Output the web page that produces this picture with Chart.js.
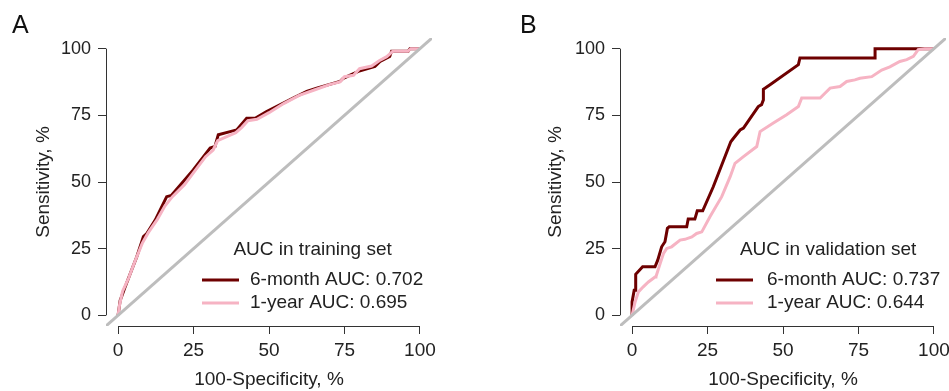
<!DOCTYPE html>
<html lang="en">
<head>
    <meta charset="UTF-8">
    <title>ROC curves</title>
    <script src="https://cdn.jsdelivr.net/npm/chart.js@4.4.1/dist/chart.umd.min.js"></script>
    <style>
        body { margin: 0; background: #fff; }
        #wrap { position: relative; width: 949px; height: 391px; }
        canvas { position: absolute; top: 0; }
        #chartA { left: 0; }
        #chartB { left: 480px; }
    </style>
</head>
<body>
<div id="wrap">
    <canvas id="chartA" width="480" height="391"></canvas>
    <canvas id="chartB" width="469" height="391"></canvas>
</div>

<script>
    // axis ticks (percent)
    const axisTicks = [0, 25, 50, 75, 100];

    // training set, 6-month
    const trainX6m = [0, 0.7, 2.3, 4.5, 6.2, 8.4, 9.5, 12.3, 16.1, 17.7, 24.9, 30.5, 32.1, 33.2, 37.1, 39.3, 42.6, 45.4, 49.2, 58, 62.5, 65.8, 73.5, 74.6, 79.6, 85.1, 86.8, 90, 90.6, 96.1, 96.7, 100];
    const trainY6m = [0, 5.6, 10.5, 17, 22, 29.5, 30.7, 35.7, 44.5, 45, 54.5, 62.7, 63.3, 67.7, 68.9, 69.5, 73.9, 73.9, 76.4, 81.5, 84, 85.2, 87.7, 88.9, 91.5, 93.3, 95.2, 97.1, 99, 99, 100, 100];
    // training set, 1-year
    const trainX1y = [0, 0.5, 1.5, 3.5, 5.5, 8, 10, 13, 15.5, 18, 22, 25, 29, 31.5, 33, 36, 39, 41, 43, 46, 50, 55, 60, 65, 70, 73.5, 75, 78, 80, 84, 86.5, 89, 91, 96, 97, 100];
    const trainY1y = [0, 4, 9, 14, 20, 27, 31, 36, 41, 44.5, 49, 53.5, 59.5, 62, 65.5, 67, 68.5, 70.5, 73, 73.5, 76, 79.5, 82.5, 84.5, 86.5, 87.5, 89.5, 90, 92.5, 93.5, 95.5, 97, 99, 99, 100, 100];

    // validation set, 6-month
    const validX6m = [0, 0, 0.7, 1.2, 1.2, 3.5, 7.6, 8.5, 9.8, 10.9, 11.7, 12.3, 18.1, 18.6, 20.8, 21.6, 23.4, 26.9, 32.7, 33.6, 35.8, 36.9, 41.8, 42.9, 43.5, 43.5, 45.7, 55.1, 55.6, 80.5, 80.5, 96.5, 100];
    const validY6m = [0, 5, 9.4, 9.4, 15.4, 18.2, 18.2, 20.7, 25.7, 27.6, 32.6, 33.2, 33.2, 36.1, 36.1, 39.2, 39.2, 48.2, 65.1, 66.4, 69.5, 70.2, 78.3, 79, 80.8, 84.8, 86.5, 94, 96.5, 96.5, 100, 100, 100];
    // validation set, 1-year
    const validX1y = [0, 1, 2.1, 3.7, 5.4, 7.6, 7.9, 9.3, 10.4, 11.5, 13.1, 15.9, 17.5, 19.8, 21.4, 23.1, 25.8, 29.7, 32.5, 34.1, 36.9, 41.3, 42.4, 46.8, 51.2, 55.1, 56.2, 62.3, 63.9, 65.6, 68.9, 71.1, 73.8, 75.5, 79.4, 82.7, 85.4, 88.7, 91, 93.2, 94.8, 97, 100];
    const validY1y = [0, 5, 8.8, 10.7, 12.5, 14.4, 14.5, 19.4, 23.2, 25.1, 25.7, 28.2, 28.5, 29.4, 30.7, 31.3, 37, 44.5, 52, 57, 59.5, 63.3, 68.9, 72.1, 75.2, 78.3, 81.5, 81.5, 83.3, 85.2, 85.8, 87.7, 88.3, 88.9, 89.5, 92, 93.2, 95.2, 95.9, 97.1, 99.6, 100, 100];

    // reference line
    const diagX = [-4, 104];
    const diagY = [-4, 104];

    const seriesLabels = ['6-month AUC: 0.702', '1-year AUC: 0.695', '6-month AUC: 0.737', '1-year AUC: 0.644'];

    const darkRed = '#6e0000';
    const pink = '#f6b3c3';
    const textColor = '#222';
    const fontFamily = '"Liberation Sans", Arial, Helvetica, sans-serif';

    function toPoints(xs, ys) {
        return xs.map((x, i) => ({x: x, y: ys[i]}));
    }

    // R-style axis lines only from 0 to 100, plus panel letter and legend
    const extrasPlugin = {
        id: 'extras',
        afterDraw(chart, args, opts) {
            const ctx = chart.ctx;
            const xs = chart.scales.x;
            const ys = chart.scales.y;
            const area = chart.chartArea;
            ctx.save();
            ctx.strokeStyle = '#333';
            ctx.lineWidth = 1;
            ctx.beginPath();
            ctx.moveTo(area.left + 0.5, ys.getPixelForValue(0));
            ctx.lineTo(area.left + 0.5, ys.getPixelForValue(100));
            ctx.moveTo(xs.getPixelForValue(0), area.bottom + 0.5);
            ctx.lineTo(xs.getPixelForValue(100), area.bottom + 0.5);
            ctx.stroke();

            // panel letter
            ctx.fillStyle = '#111';
            ctx.font = '25px ' + fontFamily;
            ctx.textBaseline = 'alphabetic';
            ctx.textAlign = 'left';
            ctx.fillText(opts.letter, opts.letterX, 33);

            // legend
            ctx.font = '19px ' + fontFamily;
            ctx.fillStyle = textColor;
            ctx.textBaseline = 'middle';
            const rows = opts.items;
            let maxW = 0;
            rows.forEach(r => { maxW = Math.max(maxW, ctx.measureText(r.label).width); });
            const right = opts.textX + maxW;
            ctx.textAlign = 'center';
            ctx.fillText(opts.title, (opts.lineX + right) / 2, 250);
            ctx.textAlign = 'left';
            rows.forEach((r, i) => {
                const y = 280 + i * 23;
                ctx.strokeStyle = r.color;
                ctx.lineWidth = 3;
                ctx.beginPath();
                ctx.moveTo(opts.lineX, y);
                ctx.lineTo(opts.lineX + 37, y);
                ctx.stroke();
                ctx.fillText(r.label, opts.textX, y);
            });
            ctx.restore();
        }
    };

    function makeChart(id, s) {
        return new Chart(document.getElementById(id), {
            type: 'line',
            data: {
                datasets: [
                    {
                        label: 'diagonal',
                        data: toPoints(diagX, diagY),
                        borderColor: '#bdbdbd',
                        borderWidth: 3,
                        order: 0
                    },
                    {
                        label: s.labels[1],
                        data: toPoints(s.x1y, s.y1y),
                        borderColor: pink,
                        borderWidth: 3,
                        order: 1
                    },
                    {
                        label: s.labels[0],
                        data: toPoints(s.x6m, s.y6m),
                        borderColor: darkRed,
                        borderWidth: 3,
                        order: 2
                    }
                ]
            },
            options: {
                responsive: false,
                animation: false,
                devicePixelRatio: 1,
                elements: {
                    point: {radius: 0},
                    line: {tension: 0, borderCapStyle: 'butt', borderJoinStyle: 'miter'}
                },
                layout: {padding: {top: 38, right: s.padRight, left: 0, bottom: 0}},
                plugins: {
                    legend: {display: false},
                    tooltip: {enabled: false},
                    extras: {
                        letter: s.letter,
                        letterX: s.letterX,
                        title: s.legendTitle,
                        lineX: s.lineX,
                        textX: s.textX,
                        items: [
                            {label: s.labels[0], color: darkRed},
                            {label: s.labels[1], color: pink}
                        ]
                    }
                },
                scales: {
                    x: {
                        type: 'linear',
                        min: -4,
                        max: 104,
                        afterBuildTicks: sc => { sc.ticks = axisTicks.map(v => ({value: v})); },
                        afterFit: sc => { sc.height = 65; sc.paddingLeft = 0; sc.paddingRight = 0; },
                        border: {display: false},
                        grid: {drawOnChartArea: false, tickLength: 8, color: '#333', lineWidth: 1},
                        ticks: {color: textColor, padding: 5, maxRotation: 0, font: {family: fontFamily, size: 19}},
                        title: {
                            display: true,
                            text: '100-Specificity, %',
                            color: textColor,
                            padding: {top: 2, bottom: 0},
                            font: {family: fontFamily, size: 19}
                        }
                    },
                    y: {
                        type: 'linear',
                        min: -4,
                        max: 104,
                        afterBuildTicks: sc => { sc.ticks = axisTicks.map(v => ({value: v})); },
                        afterFit: sc => { sc.width = s.yWidth; sc.paddingTop = 0; sc.paddingBottom = 0; },
                        border: {display: false},
                        grid: {drawOnChartArea: false, tickLength: 8, color: '#333', lineWidth: 1},
                        ticks: {color: textColor, padding: 7, font: {family: fontFamily, size: 18}},
                        title: {
                            display: true,
                            text: 'Sensitivity, %',
                            color: textColor,
                            padding: {top: s.yTitlePad, bottom: 0},
                            font: {family: fontFamily, size: 19}
                        }
                    }
                }
            },
            plugins: [extrasPlugin]
        });
    }

    makeChart('chartA', {
        x6m: trainX6m, y6m: trainY6m, x1y: trainX1y, y1y: trainY1y,
        labels: [seriesLabels[0], seriesLabels[1]],
        legendTitle: 'AUC in training set',
        letter: 'A', letterX: 12,
        padRight: 48, yWidth: 106, yTitlePad: 32,
        lineX: 202, textX: 250
    });

    makeChart('chartB', {
        x6m: validX6m, y6m: validY6m, x1y: validX1y, y1y: validY1y,
        labels: [seriesLabels[2], seriesLabels[3]],
        legendTitle: 'AUC in validation set',
        letter: 'B', letterX: 40,
        padRight: 3, yWidth: 140, yTitlePad: 64,
        lineX: 236, textX: 287
    });
</script>
</body>
</html>
